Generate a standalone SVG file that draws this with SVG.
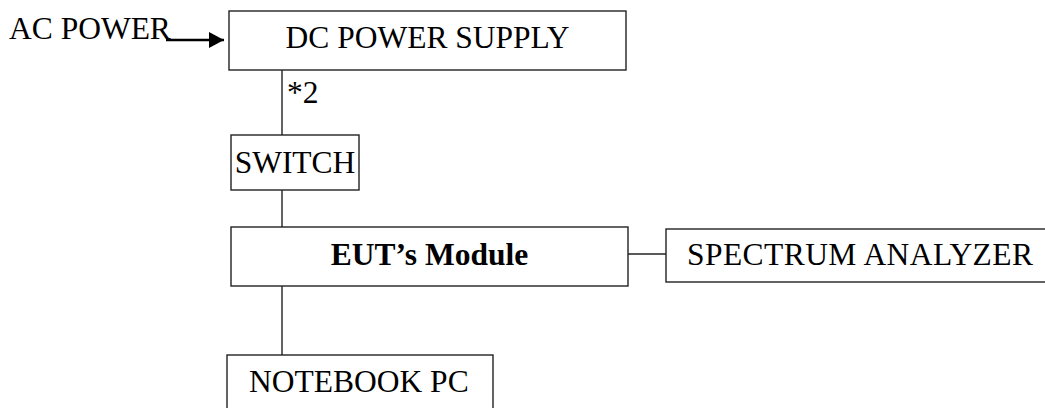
<svg xmlns="http://www.w3.org/2000/svg" width="1045" height="408" viewBox="0 0 1045 408">
  <style>
    .box { fill: #ffffff; stroke: #222222; stroke-width: 1.4; }
    .wire { fill: none; stroke: #222222; stroke-width: 1.4; }
    .feed { fill: none; stroke: #000000; stroke-width: 2.4; }
    .lbl { font-family: "Liberation Serif", "Times New Roman", serif; font-size: 31.5px; fill: #000000; }
    .mid { text-anchor: middle; }
    .bold { font-weight: bold; }
  </style>
  <defs>
    <marker id="arrowhead" viewBox="0 0 15 16" refX="15" refY="8" markerWidth="15" markerHeight="16" markerUnits="userSpaceOnUse" orient="auto">
      <path d="M0,0 L15,8 L0,16 Z" fill="#000000"/>
    </marker>
  </defs>
  <rect width="1045" height="408" fill="#ffffff"/>

  <g id="connectors">
    <line class="feed" x1="166" y1="40" x2="224" y2="40" marker-end="url(#arrowhead)"/>
    <line class="wire" x1="282" y1="70" x2="282" y2="135"/>
    <line class="wire" x1="282" y1="190" x2="282" y2="227"/>
    <line class="wire" x1="282" y1="286" x2="282" y2="355"/>
    <line class="wire" x1="628" y1="254" x2="666" y2="254"/>
    <text class="lbl" x="287" y="103">*2</text>
  </g>

  <g id="ac-power">
    <text class="lbl" x="9" y="39">AC POWER</text>
  </g>

  <g id="dc-power-supply">
    <rect class="box" x="229" y="11" width="397" height="59"/>
    <text class="lbl mid" x="427.5" y="48">DC POWER SUPPLY</text>
  </g>

  <g id="switch">
    <rect class="box" x="231" y="135" width="128" height="55"/>
    <text class="lbl mid" x="295" y="173">SWITCH</text>
  </g>

  <g id="eut-module">
    <rect class="box" x="231" y="227" width="397" height="59"/>
    <text class="lbl mid bold" x="429.5" y="265">EUT’s Module</text>
  </g>

  <g id="spectrum-analyzer">
    <rect class="box" x="666" y="229" width="385" height="53"/>
    <text class="lbl" x="687" y="265" textLength="346" lengthAdjust="spacing">SPECTRUM ANALYZER</text>
  </g>

  <g id="notebook-pc">
    <rect class="box" x="227" y="355" width="266" height="60"/>
    <text class="lbl" x="249" y="392">NOTEBOOK PC</text>
  </g>
</svg>
